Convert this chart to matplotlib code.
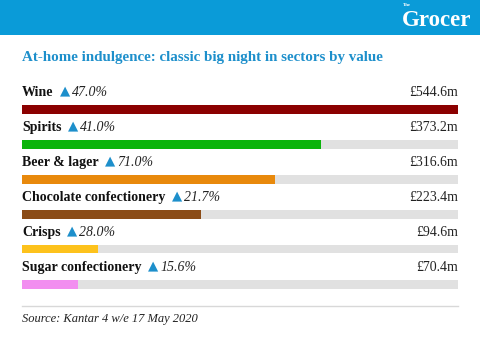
import matplotlib
matplotlib.use("Agg")
import matplotlib.pyplot as plt
from matplotlib.patches import Rectangle

sectors = ["Wine", "Spirits", "Beer & lager", "Chocolate confectionery",
           "Crisps", "Sugar confectionery"]
values = [544.6, 373.2, 316.6, 223.4, 94.6, 70.4]
growth = [47.0, 41.0, 71.0, 21.7, 28.0, 15.6]
colors = ["#8b0000", "#0bb40b", "#e8890c", "#8b4c17", "#fdc21c", "#f28ef0"]

title = "At-home indulgence: classic big night in sectors by value"
source = "Source: Kantar 4 w/e 17 May 2020"

W, H = 480, 342
fig = plt.figure(figsize=(W / 100, H / 100), dpi=100)
fig.patch.set_facecolor("white")

# full-figure overlay in pixel units for header, title and footer
bg = fig.add_axes([0, 0, 1, 1])
bg.set_xlim(0, W)
bg.set_ylim(H, 0)
bg.axis("off")

blue = "#0a9bd8"
bg.add_patch(Rectangle((0, 0), W, 35, color=blue, lw=0))
bg.text(471, 20, "Grocer", color="white", fontsize=16.5, fontweight="bold",
        family="Liberation Serif", ha="right", va="center")
bg.text(407, 5.5, "The", color="white", fontsize=3.5, fontweight="bold",
        family="Liberation Serif", ha="center", va="center")

bg.text(22, 58, title, color="#1d8fcb", fontsize=10.8, fontweight="bold",
        family="Liberation Serif", ha="left", va="center")

bg.plot([22, 458], [306, 306], color="#d8d8d8", lw=1)
bg.text(22, 319, source, color="#222222", fontsize=9, style="italic",
        family="Liberation Serif", ha="left", va="center")

# bar panel: one row every 35 px
top, bottom = 91.5, 301.5
ax = fig.add_axes([22 / W, 1 - bottom / H, (458 - 22) / W, (bottom - top) / H])
ax.set_xlim(0, max(values))
ax.set_ylim(len(sectors) - 0.5, -0.5)
ax.axis("off")

ypos = list(range(len(sectors)))
bh = 9 / 35
ax.barh(ypos, [max(values)] * len(values), height=bh, color="#e1e1e1", lw=0)
ax.barh(ypos, values, height=bh, color=colors, lw=0)

for i, (name, v, g) in enumerate(zip(sectors, values, growth)):
    ly = i - 0.46
    lab = ax.text(0, ly, name, fontsize=10, fontweight="bold", color="#111111",
                  family="Liberation Serif", ha="left", va="center")
    tri = ax.annotate("▲", xy=(1, 0.5), xycoords=lab, xytext=(4.5, 1.5),
                      textcoords="offset points", ha="left", va="center",
                      fontsize=9.5, color="#1d8fcb", family="DejaVu Sans")
    ax.annotate(f"{g:.1f}%", xy=(1, 0.5), xycoords=tri, xytext=(1.5, -1.5),
                textcoords="offset points", ha="left", va="center",
                fontsize=10, style="italic", color="#222222",
                family="Liberation Serif")
    ax.text(max(values), ly, f"£{v:.1f}m", fontsize=10, color="#222222",
            family="Liberation Serif", ha="right", va="center")

fig.savefig("out.png", dpi=100)
